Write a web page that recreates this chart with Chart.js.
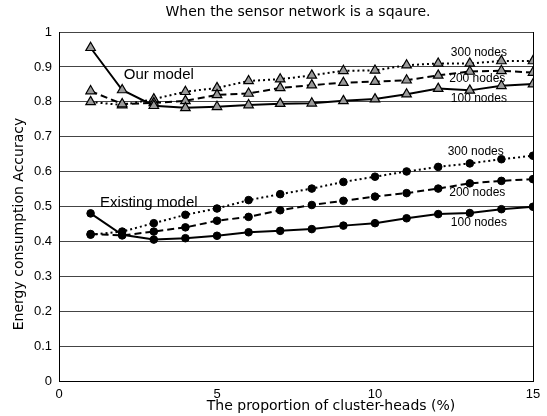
<!DOCTYPE html>
<html>
<head>
<meta charset="utf-8">
<script src="https://cdn.jsdelivr.net/npm/chart.js@4.4.0/dist/chart.umd.min.js"></script>
<style>
  body { margin: 0; background: #fff; }
  #c { display: block; }
</style>
</head>
<body>
<canvas id="c" width="547" height="416"></canvas>
<script>
var xs = [1, 2, 3, 4, 5, 6, 7, 8, 9, 10, 11, 12, 13, 14, 15];

// our model (triangles)
var our100 = [0.955, 0.834, 0.789, 0.783, 0.786, 0.791, 0.795, 0.796, 0.803, 0.808, 0.822, 0.838, 0.833, 0.846, 0.851];
var our200 = [0.831, 0.794, 0.797, 0.803, 0.820, 0.824, 0.840, 0.848, 0.855, 0.858, 0.862, 0.876, 0.887, 0.889, 0.884];
var our300 = [0.800, 0.791, 0.808, 0.829, 0.840, 0.860, 0.865, 0.876, 0.889, 0.890, 0.905, 0.910, 0.910, 0.917, 0.917];

// existing model (dots)
var ex100 = [0.481, 0.420, 0.406, 0.410, 0.417, 0.427, 0.431, 0.436, 0.446, 0.453, 0.467, 0.479, 0.482, 0.493, 0.500];
var ex200 = [0.422, 0.418, 0.429, 0.441, 0.460, 0.471, 0.490, 0.505, 0.517, 0.529, 0.539, 0.552, 0.567, 0.574, 0.579];
var ex300 = [0.420, 0.429, 0.453, 0.477, 0.495, 0.519, 0.536, 0.552, 0.571, 0.586, 0.601, 0.614, 0.624, 0.636, 0.646];

var xTicks = [0, 5, 10, 15];
var yTicks = [0, 0.1, 0.2, 0.3, 0.4, 0.5, 0.6, 0.7, 0.8, 0.9, 1];

var titleText = "When the sensor network is a sqaure.";
var xTitle = "The proportion of cluster-heads (%)";
var yTitle = "Energy consumption Accuracy";

// text labels inside the plot: [text, x, y, size]
var notes = [
  ["Our model", 2.05, 0.877, 15],
  ["Existing model", 1.3, 0.511, 15],
  ["300 nodes", 12.4, 0.941, 12],
  ["200 nodes", 12.35, 0.866, 12],
  ["100 nodes", 12.4, 0.808, 12],
  ["300 nodes", 12.3, 0.657, 12],
  ["200 nodes", 12.35, 0.540, 12],
  ["100 nodes", 12.4, 0.454, 12]
];

var FONT = "'Liberation Sans', Arial, sans-serif";
var WIDE = "'DejaVu Sans', sans-serif";

function pts(arr) {
  return arr.map(function (v, i) { return { x: xs[i], y: v }; });
}

function line(data, dash, tri) {
  return {
    data: pts(data),
    borderColor: "#000",
    borderWidth: 2,
    borderDash: dash,
    pointStyle: tri ? "triangle" : "circle",
    pointRadius: tri ? 5.5 : 3.8,
    pointBackgroundColor: tri ? "#9a9a9a" : "#000",
    pointBorderColor: "#000",
    pointBorderWidth: tri ? 1.2 : 1,
    tension: 0
  };
}

var notesPlugin = {
  id: "notes",
  afterDatasetsDraw: function (chart) {
    var ctx = chart.ctx, sx = chart.scales.x, sy = chart.scales.y, a = chart.chartArea;
    ctx.save();
    // right border line
    ctx.strokeStyle = "#000";
    ctx.lineWidth = 1;
    ctx.beginPath();
    ctx.moveTo(a.right + 0.5, a.top);
    ctx.lineTo(a.right + 0.5, a.bottom);
    ctx.stroke();

    ctx.fillStyle = "#000";
    ctx.textBaseline = "middle";
    ctx.textAlign = "left";
    notes.forEach(function (n) {
      ctx.font = n[3] + "px " + FONT;
      ctx.fillText(n[0], sx.getPixelForValue(n[1]), sy.getPixelForValue(n[2]));
    });

    // title and axis titles
    ctx.textAlign = "center";
    ctx.font = "14px " + WIDE;
    ctx.fillText(titleText, (a.left + a.right) / 2 + 2, 12);
    ctx.font = "14px " + WIDE;
    ctx.fillText(xTitle, 331, 406);
    ctx.translate(19, 224);
    ctx.rotate(-Math.PI / 2);
    ctx.font = "14px " + WIDE;
    ctx.fillText(yTitle, 0, 0);
    ctx.restore();
  }
};

new Chart(document.getElementById("c"), {
  type: "line",
  data: {
    datasets: [
      line(our100, [], true),
      line(our200, [7, 4], true),
      line(our300, [2, 3], true),
      line(ex100, [], false),
      line(ex200, [7, 4], false),
      line(ex300, [2, 3], false)
    ]
  },
  options: {
    responsive: false,
    animation: false,
    layout: { padding: { left: 0, right: 14, top: 32, bottom: 0 } },
    plugins: {
      legend: { display: false },
      tooltip: { enabled: false },
      title: { display: false }
    },
    scales: {
      x: {
        type: "linear",
        min: 0, max: 15,
        afterBuildTicks: function (s) { s.ticks = xTicks.map(function (v) { return { value: v }; }); },
        afterFit: function (s) { s.height = 34.5; },
        grid: { display: false, drawTicks: false },
        border: { color: "#000", width: 1 },
        ticks: { color: "#000", padding: 5, font: { family: FONT, size: 13 } }
      },
      y: {
        min: 0, max: 1,
        afterBuildTicks: function (s) { s.ticks = yTicks.map(function (v) { return { value: v }; }); },
        afterFit: function (s) { s.width = 59; },
        grid: { color: "#444", lineWidth: 1, borderDash: [1, 2], drawTicks: false },
        border: { color: "#000", width: 1 },
        ticks: {
          color: "#000", padding: 7, font: { family: FONT, size: 13 },
          callback: function (v) { return String(v); }
        }
      }
    }
  },
  plugins: [notesPlugin]
});
</script>
</body>
</html>
